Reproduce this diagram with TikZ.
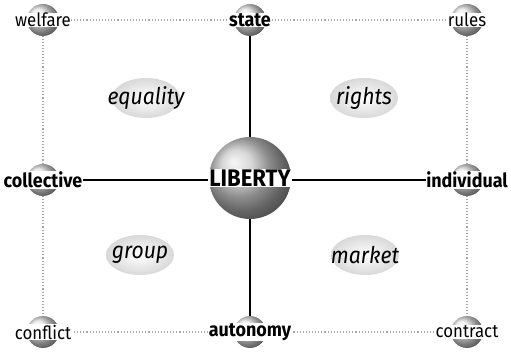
\documentclass[tikz,border=0pt]{standalone}
\usepackage{fontspec}
\setmainfont[FakeStretch=0.92]{Fira Sans}
\usetikzlibrary{shapes.geometric}
\tikzset{
  sphere/.style={circle, minimum size=32pt, inner sep=0pt, shading=ball, ball color=gray!18},
  bigsphere/.style={circle, minimum size=82pt, inner sep=0pt, shading=ball, ball color=gray!42},
  oval/.style={ellipse, minimum width=68pt, minimum height=40pt, inner sep=0pt, inner color=white, outer color=gray!30},
  lbl/.style={font=\fontsize{18.3}{18.3}\selectfont, inner sep=0.5pt, fill=white},
  blbl/.style={font=\fontsize{19.5}{19.5}\selectfont\bfseries, inner sep=0.5pt, fill=white},
  itl/.style={font=\fontsize{23}{23}\selectfont\itshape, inner sep=0pt},
  dotline/.style={gray!70, dotted, line width=1.1pt},
  solidline/.style={black, line width=1.2pt}
}
\begin{document}
\begin{tikzpicture}[x=1pt,y=-1pt]
\useasboundingbox (0,0) rectangle (511,352);
% sphere centres
\coordinate (cW) at (43,20);
\coordinate (cS) at (250,20);
\coordinate (cR) at (467,20);
\coordinate (cC) at (43,180);
\coordinate (cL) at (250,178);
\coordinate (cI) at (467,180);
\coordinate (cF) at (43,332);
\coordinate (cA) at (250,332);
\coordinate (cT) at (467,332);
% connectors
\draw[dotline] (cW) -- (cS);
\draw[dotline] (cS) -- (cR);
\draw[dotline] (cW) -- (cC);
\draw[dotline] (cC) -- (cF);
\draw[dotline] (cR) -- (cI);
\draw[dotline] (cI) -- (cT);
\draw[dotline] (cF) -- (cA);
\draw[dotline] (cA) -- (cT);
\draw[solidline] (cC) -- (cI);
\draw[solidline] (cS) -- (cA);
% sphere bodies
\node[sphere] (sW) at (cW) {};
\node[sphere] (sS) at (cS) {};
\node[sphere] (sR) at (cR) {};
\node[sphere] (sC) at (cC) {};
\node[sphere] (sI) at (cI) {};
\node[sphere] (sF) at (cF) {};
\node[sphere] (sA) at (cA) {};
\node[sphere] (sT) at (cT) {};
\node[bigsphere] (sL) at (cL) {};
% ovals
\node[oval] (oE) at (146,98) {};
\node[oval] (oR) at (364,98) {};
\node[oval] (oG) at (140,255) {};
\node[oval] (oM) at (365,255) {};
\node[itl] (tE) at (oE) {equality};
\node[itl] (tR) at (oR) {rights};
\node[itl] (tG) at (oG) {group};
\node[itl] (tM) at (oM) {market};
% labels
\node[lbl] (tW) at (cW) {welfare};
\node[blbl] (tS) at (cS) {state};
\node[lbl] (tRu) at (cR) {rules};
\node[blbl] (tC) at (cC) {collective};
\node[blbl] (tI) at (cI) {individual};
\node[lbl] (tF) at (cF) {conflict};
\node[blbl] (tA) at (cA) {autonomy};
\node[lbl] (tT) at (cT) {contract};
\node[font=\fontsize{24}{24}\selectfont\bfseries, inner sep=1pt, fill=white] (tL) at (cL) {LIBERTY};
\end{tikzpicture}
\end{document}
